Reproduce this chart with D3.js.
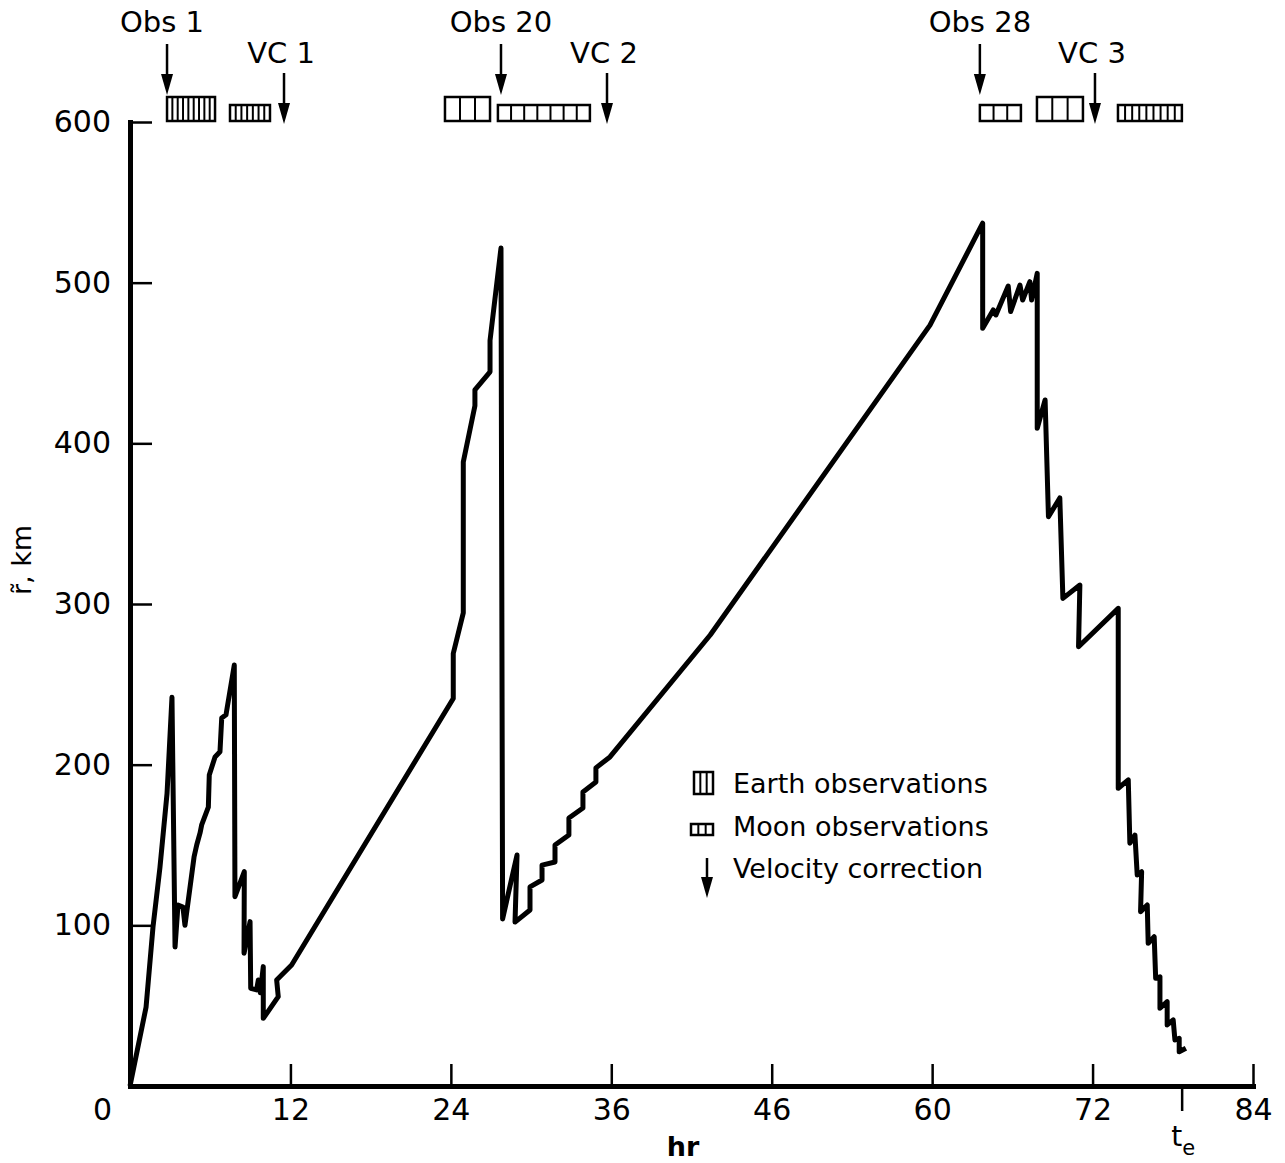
<!DOCTYPE html>
<html>
<head>
<meta charset="utf-8">
<script src="https://cdn.jsdelivr.net/npm/d3@7"></script>
<style>
  body { margin: 0; background: #fff; }
  text { font-family: "DejaVu Sans", sans-serif; fill: #000; }
</style>
</head>
<body>
<svg id="chart" width="1285" height="1163"></svg>
<script>
// Position error r~ (km) against flight time (hr)
const hours = [
  0, 1.2, 1.72, 2.24, 2.77, 3.14, 3.37, 3.59, 3.96, 4.11,
  4.79, 4.99, 5.24, 5.36, 5.86, 5.93, 6.36, 6.73, 6.86, 7.18,
  7.80, 7.85, 8.55, 8.53, 8.98, 9.03, 9.47, 9.6, 9.75, 9.97,
  9.97, 11.09, 10.97, 12.09, 24.18, 24.18, 24.93, 24.93, 25.8, 25.8,
  26.93, 26.93, 27.75, 27.87, 28.95, 28.8, 29.92, 29.92, 30.82, 30.82,
  31.79, 31.79, 32.83, 32.83, 33.88, 33.88, 34.85, 34.85, 35.9, 43.4,
  59.84, 63.78, 63.78, 64.57, 64.77, 65.69, 65.87, 66.57, 66.77, 67.31,
  67.44, 67.86, 67.86, 68.45, 68.7, 69.55, 69.78, 71.05, 70.95, 73.92,
  73.92, 74.67, 74.79, 75.17, 75.34, 75.67, 75.59, 76.09, 76.16, 76.61,
  76.72, 77.04, 77.04, 77.58, 77.58, 78.03, 78.16, 78.48, 78.48, 78.98
];
const rangeKm = [
  0, 49, 99, 136, 182, 242, 86.5, 112.7, 111.4, 100,
  142.5, 150, 157.5, 162.5, 173.6, 193.6, 204.8, 208, 229, 231,
  262, 117.8, 133.4, 82.6, 102.3, 60.8, 59.8, 66, 58, 74.3,
  42.1, 55.6, 66, 75.3, 241.2, 269.2, 294.5, 388.4, 423.4, 433.3,
  444.5, 464, 521.6, 104, 143.8, 102, 109.5, 123.9, 128.2, 137.5,
  139.4, 150, 156.2, 166.8, 173, 183, 189.2, 198, 204.8, 280.7,
  473.6, 537, 471.6, 483, 479.9, 497.9, 482, 498.5, 489.2, 500.6,
  489.2, 505.8, 409.4, 427, 354.3, 366, 303.5, 311.8, 273.4, 297.3,
  185.3, 190.5, 151.1, 156.2, 131.3, 133.4, 108.5, 112.7, 88.8, 92.9,
  67, 68, 48.4, 52.5, 38, 41.1, 28.6, 29.7, 21.3, 23.5
];

const xTickValues = [0, 12, 24, 36, 48, 60, 72, 84];
const xTickLabels = ["0", "12", "24", "36", "46", "60", "72", "84"];
const yTickValues = [100, 200, 300, 400, 500, 600];
const endTime = 78.7;   // t_e

const obsTimes = [2.77, 27.75, 63.57];
const obsLabels = ["Obs 1", "Obs 20", "Obs 28"];
const vcTimes = [11.52, 35.68, 72.18];
const vcLabels = ["VC 1", "VC 2", "VC 3"];

// Observation blocks: kind, start hr, end hr, number of sightings
const blockKind  = ["earth", "moon", "earth", "moon", "moon", "earth", "moon"];
const blockStart = [2.77, 7.48, 23.56, 27.52, 63.57, 67.84, 73.9];
const blockEnd   = [6.36, 10.47, 26.93, 34.4, 66.64, 71.28, 78.68];
const blockCells = [9, 7, 3, 7, 3, 3, 9];

const legendLabels = ["Earth observations", "Moon observations", "Velocity correction"];

const svg = d3.select("#chart");
const x = d3.scaleLinear().domain([0, 84]).range([130, 1253]);
const y = d3.scaleLinear().domain([0, 600]).range([1086, 122]);

// Axes
const xAxis = d3.axisBottom(x)
  .tickValues(xTickValues)
  .tickFormat((d, i) => xTickLabels[i])
  .tickSizeInner(-22).tickSizeOuter(0).tickPadding(13);
const gx = svg.append("g").attr("transform", `translate(0,${y(0)})`).call(xAxis);

const yAxis = d3.axisLeft(y)
  .tickValues(yTickValues)
  .tickSizeInner(-22).tickSizeOuter(0).tickPadding(19);
const gy = svg.append("g").attr("transform", `translate(${x(0)},0)`).call(yAxis);

[gx, gy].forEach(g => {
  g.select(".domain").attr("stroke", "#000").attr("stroke-width", 5).attr("stroke-linecap", "square");
  g.selectAll(".tick line").attr("stroke", "#000").attr("stroke-width", 2.5);
  g.selectAll(".tick text")
    .attr("font-family", "DejaVu Sans, sans-serif")
    .attr("font-size", 30).attr("fill", "#000");
});
gx.selectAll(".tick").filter(d => d === 0).select("text").attr("x", -28);

// End-time marker below the axis
svg.append("line")
  .attr("x1", x(endTime)).attr("x2", x(endTime))
  .attr("y1", y(0)).attr("y2", y(0) + 25)
  .attr("stroke", "#000").attr("stroke-width", 2.5);
const te = svg.append("text").attr("x", x(endTime) - 11).attr("y", 1146).attr("font-size", 28);
te.append("tspan").text("t");
te.append("tspan").attr("font-size", 21).attr("dy", 9).text("e");

// Axis titles
svg.append("text")
  .attr("transform", "translate(31,560) rotate(-90)")
  .attr("text-anchor", "middle").attr("font-size", 27)
  .text("r\u0303, km");
svg.append("text")
  .attr("x", 683).attr("y", 1156).attr("text-anchor", "middle")
  .attr("font-size", 27).attr("font-weight", "bold")
  .text("hr");

// Error curve
const line = d3.line().x(d => x(d[0])).y(d => y(d[1]));
svg.append("path")
  .datum(d3.zip(hours, rangeKm))
  .attr("d", line)
  .attr("fill", "none").attr("stroke", "#000")
  .attr("stroke-width", 5).attr("stroke-linejoin", "round");

// Downward arrow helper
function arrow(g, cx, y1, y2) {
  g.append("line").attr("x1", cx).attr("x2", cx).attr("y1", y1).attr("y2", y2 - 16)
    .attr("stroke", "#000").attr("stroke-width", 2.5);
  g.append("path")
    .attr("d", `M${cx - 6},${y2 - 21} L${cx + 6},${y2 - 21} L${cx},${y2} Z`)
    .attr("fill", "#000");
}

// Observation and velocity-correction markers
const marks = svg.append("g");
obsTimes.forEach((t, i) => {
  marks.append("text").attr("x", x(t) - (i === 0 ? 5 : 0)).attr("y", 32)
    .attr("text-anchor", "middle").attr("font-size", 29).text(obsLabels[i]);
  arrow(marks, x(t), 44, 95);
});
vcTimes.forEach((t, i) => {
  marks.append("text").attr("x", x(t) - 3).attr("y", 63)
    .attr("text-anchor", "middle").attr("font-size", 29).text(vcLabels[i]);
  arrow(marks, x(t), 73, 124);
});

// Observation blocks
function block(g, x0, x1, bottom, h, n) {
  g.append("rect").attr("x", x0).attr("y", bottom - h).attr("width", x1 - x0).attr("height", h)
    .attr("fill", "#fff").attr("stroke", "#000").attr("stroke-width", 2.5);
  for (let k = 1; k < n; k++) {
    const xx = x0 + (x1 - x0) * k / n;
    g.append("line").attr("x1", xx).attr("x2", xx).attr("y1", bottom - h).attr("y2", bottom)
      .attr("stroke", "#000").attr("stroke-width", 2);
  }
}
blockKind.forEach((kind, i) => {
  block(marks, x(blockStart[i]), x(blockEnd[i]), 121, kind === "earth" ? 24 : 16, blockCells[i]);
});

// Legend
const lg = svg.append("g");
block(lg, 694, 713, 794, 22, 3);
block(lg, 691, 713, 835, 11, 3);
arrow(lg, 707, 858, 898);
[793, 836, 878].forEach((by, i) => {
  lg.append("text").attr("x", 733).attr("y", by).attr("font-size", 27).text(legendLabels[i]);
});
</script>
</body>
</html>
